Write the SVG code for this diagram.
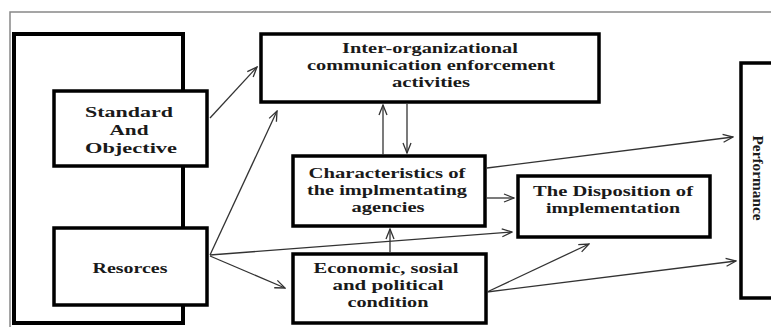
<svg xmlns="http://www.w3.org/2000/svg" width="771" height="327" viewBox="0 0 771 327">
<style>
.box{fill:#fff;stroke:#000;stroke-width:3.5}
.outer{fill:#fff;stroke:#000;stroke-width:4}
.lbl{font-family:"Liberation Serif","Times New Roman",serif;font-weight:bold;font-size:15px;fill:#1a1a1a;text-anchor:middle}
.con{fill:none;stroke:#333;stroke-width:1.3}
.frame{fill:none;stroke:#888;stroke-width:1.5}
</style>
<defs>
<marker id="ah" viewBox="0 0 12 10" refX="11" refY="5" markerWidth="12" markerHeight="10" orient="auto" markerUnits="userSpaceOnUse">
<path d="M1,1 L11,5 L1,9" fill="none" stroke="#333" stroke-width="1.3"/>
</marker>
</defs>
<rect width="771" height="327" fill="#fff"/>
<path class="frame" d="M10,327 L10,12 L771,12"/>
<g id="policy-frame">
<rect class="outer" x="14" y="34" width="169" height="289"/>
</g>
<g id="standard">
<rect class="box" x="54" y="91" width="153" height="75"/>
<text class="lbl" x="129" y="117" textLength="88" lengthAdjust="spacingAndGlyphs">Standard</text>
<text class="lbl" x="129" y="135" textLength="39" lengthAdjust="spacingAndGlyphs">And</text>
<text class="lbl" x="131" y="153" textLength="92" lengthAdjust="spacingAndGlyphs">Objective</text>
</g>
<g id="resources">
<rect class="box" x="54" y="228" width="153" height="77"/>
<text class="lbl" x="130" y="273" textLength="75" lengthAdjust="spacingAndGlyphs">Resorces</text>
</g>
<g id="inter-org">
<rect class="box" x="261" y="34" width="338" height="68"/>
<text class="lbl" x="430" y="53" textLength="176" lengthAdjust="spacingAndGlyphs">Inter-organizational</text>
<text class="lbl" x="431" y="70" textLength="248" lengthAdjust="spacingAndGlyphs">communication enforcement</text>
<text class="lbl" x="431" y="87" textLength="78" lengthAdjust="spacingAndGlyphs">activities</text>
</g>
<g id="characteristics">
<rect class="box" x="293" y="156" width="192" height="70"/>
<text class="lbl" x="387" y="178" textLength="157" lengthAdjust="spacingAndGlyphs">Characteristics of</text>
<text class="lbl" x="387" y="195" textLength="160" lengthAdjust="spacingAndGlyphs">the implmentating</text>
<text class="lbl" x="388" y="212" textLength="73" lengthAdjust="spacingAndGlyphs">agencies</text>
</g>
<g id="economic">
<rect class="box" x="293" y="254" width="193" height="69"/>
<text class="lbl" x="386" y="273" textLength="145" lengthAdjust="spacingAndGlyphs">Economic, sosial</text>
<text class="lbl" x="388" y="290" textLength="111" lengthAdjust="spacingAndGlyphs">and political</text>
<text class="lbl" x="388" y="307" textLength="81" lengthAdjust="spacingAndGlyphs">condition</text>
</g>
<g id="disposition">
<rect class="box" x="518" y="176" width="192" height="61"/>
<text class="lbl" x="613" y="196" textLength="160" lengthAdjust="spacingAndGlyphs">The Disposition of</text>
<text class="lbl" x="613" y="213" textLength="134" lengthAdjust="spacingAndGlyphs">implementation</text>
</g>
<g id="performance">
<rect class="box" x="741" y="63" width="60" height="235"/>
<text class="lbl" style="font-size:14px" transform="translate(753,178) rotate(90)" x="0" y="0" textLength="85" lengthAdjust="spacingAndGlyphs">Performance</text>
</g>
<g id="connectors">
<path class="con" marker-end="url(#ah)" d="M210,118 L257,67"/>
<path class="con" marker-end="url(#ah)" d="M210,255 L277,111"/>
<path class="con" marker-end="url(#ah)" d="M210,255 L512,232"/>
<path class="con" marker-end="url(#ah)" d="M210,256 L285,288"/>
<path class="con" marker-end="url(#ah)" d="M383,155 L383,105"/>
<path class="con" marker-end="url(#ah)" d="M407,104 L407,153"/>
<path class="con" marker-end="url(#ah)" d="M487,168 L733,137"/>
<path class="con" marker-end="url(#ah)" d="M487,198 L514,198"/>
<path class="con" marker-end="url(#ah)" d="M390,252 L390,229"/>
<path class="con" marker-end="url(#ah)" d="M487,292 L589,244"/>
<path class="con" marker-end="url(#ah)" d="M487,292 L736,261"/>
</g>
</svg>
